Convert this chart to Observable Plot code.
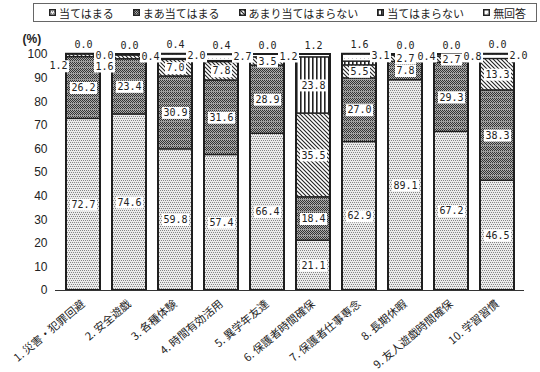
<!DOCTYPE html>
<html>
<head>
<meta charset="utf-8">
<script src="https://cdn.jsdelivr.net/npm/d3@7"></script>
<script src="https://cdn.jsdelivr.net/npm/@observablehq/plot@0.6"></script>
<style>
  body { margin: 0; background: #fff; width: 540px; height: 372px; overflow: hidden;
         font-family: "Noto Sans CJK JP", sans-serif; }
  #legend { box-sizing: border-box; margin: 3px 0 0 33px; width: 504px; height: 19px;
            border: 1px solid #666; display: flex; align-items: center; padding-left: 15px;
            gap: 19px; font-size: 11px; color: #222; }
  .item { display: flex; align-items: center; gap: 3px; white-space: nowrap; }
  .item svg { display: block; }
  #chart { margin-top: 4px; }
</style>
</head>
<body>
<div id="legend"></div>
<div id="chart"></div>
<script>
// Survey items (x axis)
const categories = [
  "1. 災害・犯罪回避", "2. 安全遊戯", "3. 各種体験", "4. 時間有効活用", "5. 異学年友達",
  "6. 保護者時間確保", "7. 保護者仕事専念", "8. 長期休暇", "9. 友人遊戯時間確保", "10. 学習習慣"
];

// Response categories, bottom to top of each stacked bar
const seriesNames = ["当てはまる", "まあ当てはまる", "あまり当てはまらない", "当てはまらない", "無回答"];

// Percentages per response, one value per survey item
const atehamaru         = [72.7, 74.6, 59.8, 57.4, 66.4, 21.1, 62.9, 89.1, 67.2, 46.5];
const maaAtehamaru      = [26.2, 23.4, 30.9, 31.6, 28.9, 18.4, 27.0,  7.8, 29.3, 38.3];
const amariAtehamaranai = [ 1.2,  1.6,  7.0,  7.8,  3.5, 35.5,  5.5,  2.7,  2.7, 13.3];
const atehamaranai      = [ 0.0,  0.0,  0.4,  0.4,  0.0, 23.8,  1.6,  0.0,  0.0,  0.0];
const mukaito           = [ 0.0,  0.4,  2.0,  2.7,  1.2,  1.2,  3.1,  0.4,  0.8,  2.0];

// Y axis tick values
const yTicks = [0, 10, 20, 30, 40, 50, 60, 70, 80, 90, 100];

const seriesValues = [atehamaru, maaAtehamaru, amariAtehamaranai, atehamaranai, mukaito];
const patternIds = ["pat-a", "pat-b", "pat-c", "pat-d", "pat-e"];

// Build stacked rows with cumulative extents
const rows = [];
const totals = [];
categories.forEach((c, i) => {
  let acc = 0;
  seriesValues.forEach((vals, s) => {
    const v = vals[i];
    rows.push({category: c, index: i, s, series: seriesNames[s], value: v, y1: acc, y2: acc + v});
    acc += v;
  });
  totals.push({category: c, total: acc});
});
rows.forEach(r => r.total = totals[r.index].total);

// Where each value label goes: inside the segment, or beside / above the bar when it is thin
function placeOf(r) {
  if (r.s <= 1) return "inside";
  if (r.s === 2) return r.value >= 2 ? "inside" : "left";
  if (r.s === 3) return r.value >= 5 ? "inside" : "top";
  return atehamaranai[r.index] >= 5 ? "top" : "right";
}
rows.forEach(r => r.place = placeOf(r));

// Label placements: anchor value and pixel offset
const placements = {
  inside: {y: d => (d.y1 + d.y2) / 2, dx: 0, dy: 0},
  top:    {y: "total", dx: 0, dy: -9},
  right:  {y: "total", dx: 21, dy: 2},
  left:   {y: "total", dx: -25, dy: 12}
};

// White label boxes drawn as custom dot symbols (3- or 4-character labels)
const boxSymbol = (w, h) => ({draw(ctx) { ctx.rect(-w / 2, -h / 2, w, h); }});
const box3 = boxSymbol(21, 12);
const box4 = boxSymbol(27, 12);

const boxMarks = [];
const textMarks = [];
for (const [place, p] of Object.entries(placements)) {
  const data = rows.filter(r => r.place === place);
  const common = {x: "category", y: p.y, dx: p.dx, dy: p.dy};
  boxMarks.push(
    Plot.dot(data.filter(d => d.value < 10), {...common, r: 1, symbol: box3, fill: "white", stroke: "none"}),
    Plot.dot(data.filter(d => d.value >= 10), {...common, r: 1, symbol: box4, fill: "white", stroke: "none"})
  );
  textMarks.push(
    Plot.text(data, {...common, text: d => d.value.toFixed(1),
      fontFamily: "DejaVu Sans Mono, monospace", fontSize: 10, fill: "#222"})
  );
}

const chart = Plot.plot({
  width: 540,
  height: 346,
  marginTop: 28,
  marginBottom: 82,
  marginLeft: 55,
  marginRight: 16,
  style: {fontFamily: "Liberation Sans, Noto Sans CJK JP, sans-serif", fontSize: "12px", color: "#222", background: "white", overflow: "visible"},
  x: {domain: categories, paddingInner: 0.27, paddingOuter: 0.135},
  y: {domain: [0, 100]},
  color: {domain: seriesNames, range: patternIds.map(id => `url(#${id})`)},
  marks: [
    Plot.barY(rows.filter(r => r.value > 0), {
      x: "category", y1: "y1", y2: "y2", fill: "series",
      stroke: "#1e1e1e", strokeWidth: 1.3
    }),
    Plot.barY(totals, {x: "category", y1: 0, y2: "total", fill: "none", stroke: "#1e1e1e", strokeWidth: 2}),
    Plot.axisY({ticks: yTicks, tickSize: 0, tickPadding: 8, fontSize: 12, label: null, line: true, stroke: "#333"}),
    Plot.axisY({anchor: "right", ticks: yTicks, tickSize: 0, tickFormat: () => "", label: null, line: true, stroke: "#333"}),
    Plot.ruleY([0], {stroke: "#333"}),
    Plot.axisX({tickRotate: -40, tickSize: 0, tickPadding: 12, fontSize: 11, label: null,
      fontFamily: "Noto Sans CJK JP, sans-serif"}),
    Plot.text(["(%)"], {frameAnchor: "top-left", textAnchor: "start", lineAnchor: "middle", dx: -33, dy: -15,
      fontSize: 12, fontWeight: "bold", fill: "#222"}),
    ...boxMarks,
    ...textMarks
  ]
});

// Fill patterns for the five response categories
const defs = d3.select(chart).insert("defs", ":first-child");
function pattern(id, w, h, draw) {
  const p = defs.append("pattern").attr("id", id)
    .attr("patternUnits", "userSpaceOnUse").attr("width", w).attr("height", h);
  draw(p);
}
// 当てはまる: light stipple
pattern("pat-a", 4, 4, p => {
  p.append("rect").attr("width", 4).attr("height", 4).attr("fill", "#ebebeb");
  [[0, 0], [2, 0], [1, 2], [3, 2]].forEach(([x, y]) =>
    p.append("rect").attr("x", x).attr("y", y).attr("width", 1).attr("height", 1).attr("fill", "#858585"));
});
// まあ当てはまる: dark checker with light rows
pattern("pat-b", 4, 6, p => {
  p.append("rect").attr("width", 4).attr("height", 6).attr("fill", "#ababab");
  for (let y = 0; y < 5; y++) for (let x = (y % 2); x < 4; x += 2)
    p.append("rect").attr("x", x).attr("y", y).attr("width", 1).attr("height", 1).attr("fill", "#333");
  p.append("rect").attr("y", 5).attr("width", 4).attr("height", 1).attr("fill", "#999");
});
// あまり当てはまらない: diagonal hatch
pattern("pat-c", 4, 4, p => {
  p.append("rect").attr("width", 4).attr("height", 4).attr("fill", "#fff");
  p.append("path").attr("d", "M-1,-1L5,5M-1,3L1,5M3,-1L5,1")
    .attr("stroke", "#222").attr("stroke-width", 1.1);
});
// 当てはまらない: vertical stripes
pattern("pat-d", 4, 4, p => {
  p.append("rect").attr("width", 4).attr("height", 4).attr("fill", "#fff");
  p.append("rect").attr("x", 0).attr("width", 1.6).attr("height", 4).attr("fill", "#222");
});
// 無回答: nearly white
pattern("pat-e", 4, 4, p => {
  p.append("rect").attr("width", 4).attr("height", 4).attr("fill", "#fff");
  p.append("rect").attr("width", 1).attr("height", 1).attr("fill", "#c8c8c8");
});

document.getElementById("chart").appendChild(chart);

// Legend
const legend = d3.select("#legend");
seriesNames.forEach((name, s) => {
  const item = legend.append("div").attr("class", "item");
  const sw = item.append("svg").attr("width", 7).attr("height", 7);
  sw.append("rect").attr("x", 0.75).attr("y", 0.75).attr("width", 5.5).attr("height", 5.5)
    .attr("fill", `url(#${patternIds[s]})`).attr("stroke", "#222").attr("stroke-width", 1.5);
  item.append("span").text(name);
});
</script>
</body>
</html>
